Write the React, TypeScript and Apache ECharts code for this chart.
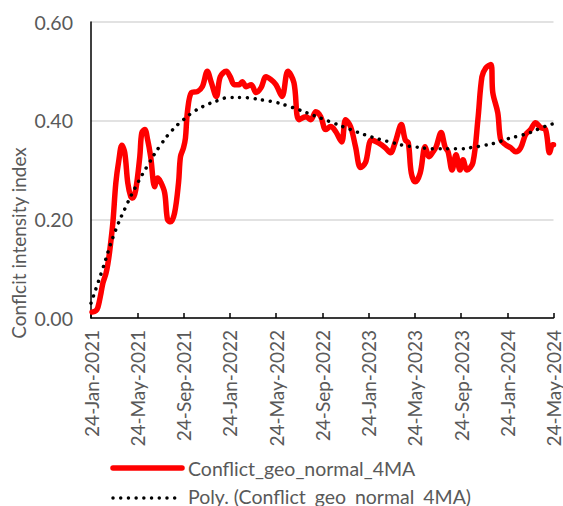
import React, { useEffect, useRef } from "react";
import * as echarts from "echarts";

// X-axis tick labels (every 4 months from 24-Jan-2021)
const xLabels = [
  "24-Jan-2021", "24-May-2021", "24-Sep-2021", "24-Jan-2022", "24-May-2022",
  "24-Sep-2022", "24-Jan-2023", "24-May-2023", "24-Sep-2023", "24-Jan-2024", "24-May-2024",
];

// Red series: position in months since 24-Jan-2021, and values
const redMonths = [
  0.09, 0.43, 0.6, 0.86, 1.03, 1.29, 1.46, 1.63, 1.89, 2.15, 2.41, 2.67, 2.92, 3.18, 3.44, 3.61,
  3.87, 4.22, 4.39, 4.65, 4.9, 5.16, 5.51, 5.76, 6.02, 6.37, 6.62, 6.88, 7.23, 7.57, 7.74, 8.0,
  8.17, 8.34, 8.69, 9.2, 9.63, 10.06, 10.41, 10.84, 11.18, 11.7, 12.04, 12.39, 12.82, 13.08,
  13.42, 13.85, 14.28, 14.71, 15.14, 15.57, 16.0, 16.52, 17.03, 17.55, 17.98, 18.58, 19.01,
  19.44, 19.87, 20.3, 20.73, 21.16, 21.68, 22.02, 22.45, 22.88, 23.31, 23.74, 24.26, 24.86,
  25.46, 25.89, 26.32, 26.84, 27.18, 27.44, 27.7, 28.04, 28.47, 28.9, 29.25, 29.59, 29.85,
  30.28, 30.62, 30.88, 31.23, 31.57, 31.91, 32.17, 32.52, 33.03, 33.46, 33.81, 34.15, 34.58,
  34.75, 35.18, 35.44, 35.87, 36.3, 36.73, 37.16, 37.59, 38.02, 38.45, 38.88, 39.31, 39.66,
  39.91, 40.0,
];
const redValues = [
  0.012, 0.015, 0.022, 0.05, 0.071, 0.09, 0.11, 0.138, 0.193, 0.274, 0.32, 0.35, 0.335, 0.274,
  0.246, 0.243, 0.26, 0.327, 0.375, 0.382, 0.361, 0.327, 0.266, 0.284, 0.276, 0.254, 0.199,
  0.195, 0.213, 0.274, 0.327, 0.345, 0.365, 0.418, 0.457, 0.459, 0.469, 0.5, 0.477, 0.449,
  0.489, 0.5, 0.489, 0.473, 0.473, 0.479, 0.469, 0.473, 0.457, 0.467, 0.489, 0.483, 0.473,
  0.449, 0.5, 0.477, 0.402, 0.408, 0.402, 0.418, 0.408, 0.382, 0.388, 0.378, 0.357, 0.402,
  0.388, 0.347, 0.305, 0.315, 0.361, 0.355, 0.345, 0.335, 0.357, 0.392, 0.361, 0.355, 0.294,
  0.276, 0.294, 0.347, 0.327, 0.337, 0.347, 0.376, 0.347, 0.337, 0.3, 0.331, 0.3, 0.321, 0.3,
  0.315, 0.402, 0.489, 0.507, 0.514, 0.457, 0.416, 0.361, 0.351, 0.345, 0.337, 0.345, 0.372,
  0.382, 0.396, 0.386, 0.382, 0.335, 0.351, 0.351,
];

// Polynomial trend: one value per month (month 0 .. 40)
const trendValues = [
  0.03, 0.099, 0.17, 0.225, 0.272, 0.313, 0.35, 0.38, 0.402, 0.42, 0.432, 0.441, 0.447, 0.447,
  0.445, 0.441, 0.437, 0.43, 0.422, 0.413, 0.404, 0.395, 0.386, 0.377, 0.369, 0.362, 0.356,
  0.35, 0.347, 0.344, 0.343, 0.343, 0.343, 0.346, 0.35, 0.355, 0.363, 0.369, 0.376, 0.386,
  0.394,
];

const seriesNames = ["Conflict_geo_normal_4MA", "Poly. (Conflict_geo_normal_4MA)"];
const yTitle = "Conflcit intensity index";

const FONT = "Lato, 'Liberation Sans', sans-serif";
const RED = "#ff0000";
const TEXT = "#595959";

export default function App() {
  const ref = useRef<HTMLDivElement>(null);

  useEffect(() => {
    if (!ref.current) return;
    const chart = echarts.init(ref.current, undefined, { renderer: "svg" });
    chart.setOption({
      animation: false,
      backgroundColor: "#ffffff",
      textStyle: { fontFamily: FONT },
      grid: { left: 91, top: 22, right: 7, bottom: 188, containLabel: false },
      xAxis: {
        type: "value",
        min: 0,
        max: 40,
        interval: 4,
        axisLine: { show: true, lineStyle: { color: "#000000", width: 1.5 } },
        axisTick: { show: true, inside: true, length: 5, lineStyle: { color: "#000000", width: 1.5 } },
        splitLine: { show: false },
        axisLabel: {
          rotate: 90,
          margin: 12,
          fontSize: 19,
          color: TEXT,
          fontFamily: FONT,
          showMinLabel: true,
          showMaxLabel: true,
          formatter: (v: number) => xLabels[Math.round(v / 4)] ?? "",
        },
      },
      yAxis: {
        type: "value",
        min: 0,
        max: 0.6,
        interval: 0.2,
        axisLine: { show: true, lineStyle: { color: "#000000", width: 1.5 } },
        axisTick: { show: false },
        splitLine: { show: true, lineStyle: { color: "#d9d9d9", width: 1.5 } },
        axisLabel: {
          margin: 18,
          fontSize: 19.5,
          color: TEXT,
          fontFamily: FONT,
          formatter: (v: number) => v.toFixed(2),
        },
      },
      graphic: [
        {
          type: "text",
          x: 18,
          y: 243,
          rotation: Math.PI / 2,
          style: {
            text: yTitle,
            fontSize: 19,
            fontFamily: FONT,
            fill: TEXT,
            align: "center",
            verticalAlign: "middle",
          },
        },
        {
          type: "line",
          shape: { x1: 113, y1: 468, x2: 182, y2: 468 },
          style: { stroke: RED, lineWidth: 5.5, lineCap: "round" },
        },
        {
          type: "text",
          x: 188,
          y: 468,
          style: {
            text: seriesNames[0],
            fontSize: 19.5,
            fontFamily: FONT,
            fill: TEXT,
            align: "left",
            verticalAlign: "middle",
          },
        },
        {
          type: "line",
          shape: { x1: 113, y1: 498, x2: 180, y2: 498 },
          style: { stroke: "#000000", lineWidth: 3.5, lineCap: "round", lineDash: [0.01, 7.7] },
        },
        {
          type: "text",
          x: 188,
          y: 496,
          style: {
            text: seriesNames[1],
            fontSize: 19.5,
            fontFamily: FONT,
            fill: TEXT,
            align: "left",
            verticalAlign: "middle",
          },
        },
      ],
      series: [
        {
          name: seriesNames[0],
          type: "line",
          data: redMonths.map((m, i) => [m, redValues[i]]),
          symbol: "none",
          smooth: 0.35,
          lineStyle: { color: RED, width: 5.5, cap: "round", join: "round" },
          itemStyle: { color: RED },
          z: 2,
        },
        {
          name: seriesNames[1],
          type: "line",
          data: trendValues.map((v, i) => [i, v]),
          symbol: "none",
          smooth: true,
          lineStyle: { color: "#000000", width: 3.5, type: [0.01, 7.7], cap: "round" },
          itemStyle: { color: "#000000" },
          z: 3,
        },
      ],
    });
    return () => chart.dispose();
  }, []);

  return (
    <div
      ref={ref}
      style={{ position: "fixed", left: 0, top: 0, width: 563, height: 506 }}
    />
  );
}
